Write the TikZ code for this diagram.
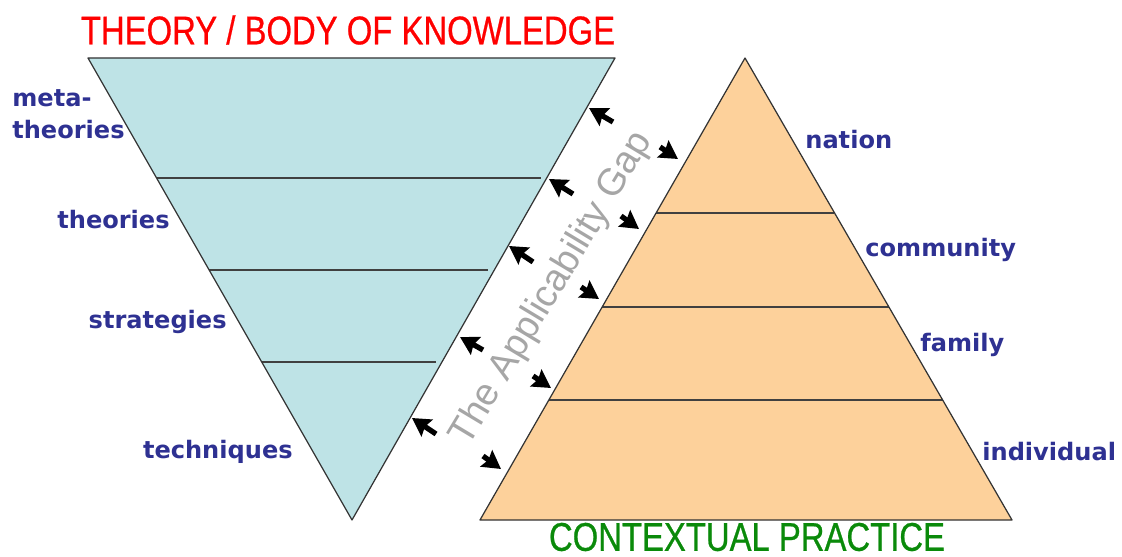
\documentclass[tikz,border=0pt]{standalone}
\usepackage{fontspec}
\setmainfont{DejaVu Sans}
\newfontfamily\narrowfont[FakeStretch=0.82,FakeBold=0.6]{Liberation Sans}
\newfontfamily\gapfont{Liberation Sans}
\usetikzlibrary{arrows.meta,calc}
\definecolor{TheoryFill}{HTML}{BEE3E6}
\definecolor{PracticeFill}{HTML}{FDD19B}
\definecolor{LevelBlue}{HTML}{2E3192}
\definecolor{GapGray}{HTML}{A6A6A6}
\definecolor{TitleRed}{HTML}{FF0000}
\definecolor{TitleGreen}{HTML}{0A8A0A}

\begin{document}
\begin{tikzpicture}[
  x=0.02cm,y=-0.02cm,
  tri/.style={draw=black!80,line width=0.7pt,line join=round},
  tier/.style={draw=black!75,line width=1pt},
  level/.style={font=\bfseries\fontsize{13.7}{18}\selectfont,text=LevelBlue,inner sep=0pt},
  heading/.style={font=\narrowfont\fontsize{22.8}{24}\selectfont,inner sep=0pt},
  gaparrow/.style={-{Stealth[length=0.36cm,width=0.4cm,inset=0.05cm]},line width=3pt},
]
\useasboundingbox (0,0) rectangle (1122,557);
% corners
\coordinate (tl) at (88,58);
\coordinate (tr) at (615,58);
\coordinate (tb) at (352,520);
\coordinate (pa) at (745,58);
\coordinate (pl) at (480,520);
\coordinate (pr) at (1012,520);
\fill[TheoryFill] (tl) -- (tr) -- (tb) -- cycle;
\fill[PracticeFill] (pa) -- (pr) -- (pl) -- cycle;
% tiers
\foreach \f in {0.26,0.459,0.658}
  \draw[tier] ($(tl)!\f!(tb)$) -- ($(tr)!\f!(tb)+(-6,0)$);
\foreach \f in {0.335,0.539,0.74}
  \draw[tier] ($(pa)!\f!(pl)$) -- ($(pa)!\f!(pr)$);
\draw[tri] (tl) -- (tr) -- (tb) -- cycle;
\draw[tri] (pa) -- (pr) -- (pl) -- cycle;
% headings
\node[heading,text=TitleRed] (theory) at (348,30) {THEORY / BODY OF KNOWLEDGE};
\node[heading,text=TitleGreen] (practice) at (747,537) {CONTEXTUAL PRACTICE};
\node[font=\gapfont\fontsize{21.6}{24}\selectfont,text=GapGray,rotate=59,inner sep=0pt] (gap) at (552,289) {The Applicability Gap};
% levels
\node[level,anchor=west,align=left] (meta) at (12,114) {meta-\\theories};
\node[level,anchor=east] (theories) at (170,220) {theories};
\node[level,anchor=east] (strategies) at (227,322) {strategies};
\node[level,anchor=east] (techniques) at (293,452) {techniques};
\node[level,anchor=west] (nation) at (805,140) {nation};
\node[level,anchor=west] (community) at (865,250) {community};
\node[level,anchor=west] (family) at (920,345) {family};
\node[level,anchor=west] (individual) at (982,452) {individual};
% arrows across the gap
\foreach \ax/\ay/\bx/\by in {613/122/589/108,573/194/549/179,533/262/509/246,483/350/460/337,436/434/412/418}
  \draw[gaparrow] (\ax,\ay) -- (\bx,\by);
\foreach \ax/\ay/\bx/\by in {660/147/678/159,621/216/639/229,581/287/599/299,533/376/551/388,483/456/501/469}
  \draw[gaparrow] (\ax,\ay) -- (\bx,\by);
\end{tikzpicture}
\end{document}
